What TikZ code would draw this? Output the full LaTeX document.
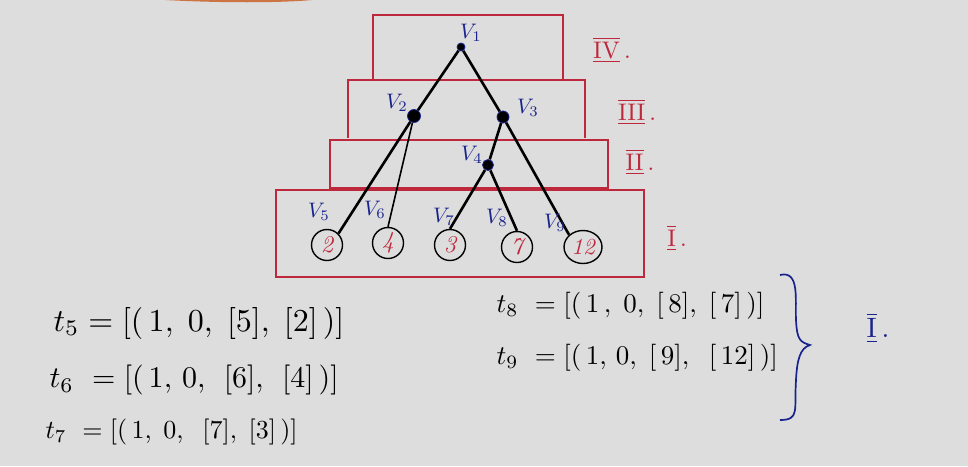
\documentclass[tikz,border=0pt]{standalone}
\usepackage{amsmath}
\usepackage{graphicx}
\usetikzlibrary{shapes.geometric}
\definecolor{bg}{RGB}{221,221,221}
\definecolor{redpen}{RGB}{190,40,60}
\definecolor{bluepen}{RGB}{25,35,140}
\definecolor{smudge}{RGB}{200,90,30}
\newcommand{\bigtxt}[2]{\scalebox{#1}{#2}}
\begin{document}
\begin{tikzpicture}[x=1pt,y=-1pt,
  levelbox/.style={draw=redpen,line width=1.4pt},
  inner/.style={circle,fill=black,draw=bluepen,line width=0.8pt,inner sep=0pt,minimum size=9pt},
  leaf/.style={circle,draw=black,line width=1.4pt,inner sep=0pt,minimum size=31pt,text=redpen},
  vlabel/.style={text=bluepen},
  edge/.style={line width=2.6pt,black},
  lvl/.style={text=redpen},
  eq/.style={anchor=west}]
\fill[bg] (0,0) rectangle (968,466);
\useasboundingbox (0,0) rectangle (968,466);
\fill[smudge,opacity=0.8] (165,0) .. controls (220,3) and (280,3) .. (312,0) -- cycle;
% level boxes
\draw[levelbox] (373,80) -- (373,15) -- (563,15) -- (563,80);
\draw[levelbox] (348,138) -- (348,80) -- (585,80) -- (585,138);
\draw[levelbox] (330,140) rectangle (608,188);
\draw[levelbox] (276,190) rectangle (644,277);
% nodes
\node[inner,minimum size=8pt] (v1) at (461,47) {};
\node[inner,minimum size=13pt] (v2) at (414,116) {};
\node[inner,minimum size=12pt] (v3) at (503,117) {};
\node[inner,minimum size=11pt] (v4) at (488,165) {};
\node[leaf] (l2) at (327,245) {\bigtxt{2.4}{\itshape 2}};
\node[leaf] (l4) at (388,243) {\bigtxt{2.4}{\itshape 4}};
\node[leaf] (l3) at (450,245) {\bigtxt{2.4}{\itshape 3}};
\node[leaf] (l7) at (517,247) {\bigtxt{2.4}{\itshape 7}};
\node[leaf,shape=ellipse,minimum width=38pt,minimum height=33pt] (l12) at (583,247) {\bigtxt{2.3}{\itshape 12}};
% edges
\draw[edge] (v1) -- (v2);
\draw[edge] (v1) -- (v3);
\draw[edge] (v2) -- (l2.north east);
\draw[edge,line width=1.6pt] (v2) -- (l4.north);
\draw[edge] (v3) -- (v4);
\draw[edge] (v3) -- (l12.north west);
\draw[edge] (v4) -- (l3.north);
\draw[edge] (v4) -- (l7.north);
% vertex labels
\node[vlabel] (n1) at (471,33) {\bigtxt{2.1}{$V_1$}};
\node[vlabel] (n2) at (397,103) {\bigtxt{2.1}{$V_2$}};
\node[vlabel] (n3) at (528,108) {\bigtxt{2.1}{$V_3$}};
\node[vlabel] (n4) at (472,155) {\bigtxt{2.1}{$V_4$}};
\node[vlabel] (n5) at (319,212) {\bigtxt{2.1}{$V_5$}};
\node[vlabel] (n6) at (375,210) {\bigtxt{2.1}{$V_6$}};
\node[vlabel] (n7) at (444,217) {\bigtxt{2.1}{$V_7$}};
\node[vlabel] (n8) at (497,218) {\bigtxt{2.1}{$V_8$}};
\node[vlabel] (n9) at (555,223) {\bigtxt{2.1}{$V_9$}};
% level labels
\node[lvl] (L4) at (612,50) {\bigtxt{2.4}{$\overline{\underline{\mathrm{IV}}}$\,.}};
\node[lvl] (L3) at (637,112) {\bigtxt{2.4}{$\overline{\underline{\mathrm{III}}}$\,.}};
\node[lvl] (L2) at (640,162) {\bigtxt{2.4}{$\overline{\underline{\mathrm{II}}}$\,.}};
\node[lvl] (L1) at (677,238) {\bigtxt{2.4}{$\overline{\underline{\mathrm{I}}}$\,.}};
% equations
\node[eq] (t5) at (50,323) {\bigtxt{3.2}{$t_5 =[(\,1,\;0,\;[5],\;[2]\,)]$}};
\node[eq] (t6) at (46,380) {\bigtxt{3.0}{$t_6\ =[(\,1,\,0,\;\,[6],\;\,[4]\,)]$}};
\node[eq] (t7) at (42,432) {\bigtxt{2.6}{$t_7\ =[(\,1,\;0,\;\;[7],\;[3]\,)]$}};
\node[eq] (t8) at (493,306) {\bigtxt{2.7}{$t_8\ =[(\,1\,,\;0,\;[\,8],\;[\,7]\,)]$}};
\node[eq] (t9) at (493,358) {\bigtxt{2.7}{$t_9\ =[(\,1,\,0,\;[\,9],\;\;[\,12]\,)]$}};
% brace
\draw[bluepen,line width=1.7pt] (780,275) .. controls (800,270) and (795,300) .. (796,320)
  .. controls (797,340) and (800,342) .. (810,345)
  .. controls (800,348) and (797,360) .. (796,380)
  .. controls (794,410) and (800,420) .. (780,420);
\node[text=bluepen] (BI) at (878,328) {\bigtxt{2.8}{$\overline{\underline{\mathrm{I}}}$\,.}};
\end{tikzpicture}
\end{document}
